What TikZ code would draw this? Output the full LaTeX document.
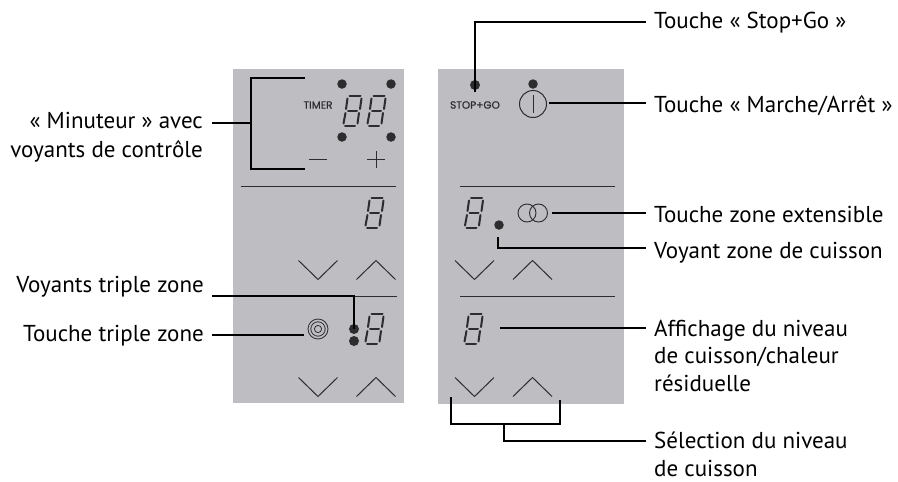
\documentclass[tikz,border=0pt]{standalone}
\usepackage{fontspec}
\setmainfont{PT Sans}
\newfontfamily\panelfont[FakeBold=0.6]{Poppins}
\tikzset{
  x=1pt,y=-1pt,
  conn/.style={draw=black,line width=1.5pt,line cap=butt,line join=miter},
  panel/.style={fill=panelgrey,draw=none},
  rule/.style={draw=ink,line width=0.9pt},
  sym/.style={draw=ink,line width=1pt},
  led/.style={circle,fill=ink,draw=none,inner sep=0pt,minimum size=#1},
  led/.default=9.5pt,
  lab/.style={font=\fontsize{23}{27.7}\selectfont,text=black,inner sep=0pt,align=left,anchor=base west},
  labr/.style={font=\fontsize{23}{28.5}\selectfont,text=black,inner sep=0pt,align=right,anchor=base east},
  seg/.style={draw=ink,line width=2pt,line cap=round},
  digit/.pic={
    \foreach \ax/\ay/\bx/\by in {
      -3.5/-15/7.5/-15, -5/0/4/0, -8/15/2/15,
      -5.5/-12.5/-7/-2, 8.5/-12.5/7/-2,
      -7.5/2/-9.5/12.5, 6/2/4.5/12.5}
      {\draw[seg] (\ax,\ay) -- (\bx,\by);}
  },
  chevdown/.pic={\draw[sym] (-19.5,-9.5) -- (0,9.5) -- (19.5,-9.5);},
  chevup/.pic={\draw[sym] (-19.5,9.5) -- (0,-9.5) -- (19.5,9.5);},
}
\definecolor{panelgrey}{RGB}{190,190,194}
\definecolor{ink}{RGB}{45,45,48}
\begin{document}
\begin{tikzpicture}
\useasboundingbox (0,0) rectangle (898,482);
% panels
\fill[panel] (233,69) rectangle (404,403);
\fill[panel] (438,69) rectangle (624,404);
% rules
\draw[rule] (241,186) -- (396,186);
\draw[rule] (241,296) -- (397,296);
\draw[rule] (460,186) -- (615,186);
\draw[rule] (460,296) -- (615,296);
% left panel symbols
\node[led] (t1) at (342,84) {};
\node[led] (t2) at (391,84) {};
\node[led] (t3) at (342,137) {};
\node[led] (t4) at (391,137) {};
\node[font=\panelfont\fontsize{10.5}{12}\selectfont,text=ink,inner sep=0pt] (timer) at (318,105) {TIMER};
\pic at (353,111) {digit};
\pic at (377,111) {digit};
\draw[sym] (309,159) -- (327,159);
\draw[sym] (367,159) -- (385,159) (376,151) -- (376,168);
\pic at (375,213) {digit};
\pic at (318,270) {chevdown};
\pic at (376,270) {chevup};
\node[circle,draw=ink,line width=0.8pt,minimum size=20pt,inner sep=0pt] (ring) at (318,329) {};
\draw[ink,line width=0.8pt] (318,329) circle (7.2) circle (3.6);
\node[led=10pt] (tz1) at (354,329) {};
\node[led=10pt] (tz2) at (354,341) {};
\pic at (375,329) {digit};
\pic at (318,387) {chevdown};
\pic at (376,387) {chevup};
% right panel symbols
\node[led=10pt] (sg) at (475,85) {};
\node[font=\panelfont\fontsize{10.5}{12}\selectfont,text=ink,inner sep=0pt] (stopgo) at (475,105) {STOP+GO};
\node[led] (on) at (533,84) {};
\node[circle,draw=ink,line width=1pt,minimum size=27pt,inner sep=0pt] (power) at (533,104) {};
\draw[ink,line width=1pt] (533,95) -- (533,113);
\pic at (474.5,213) {digit};
\node[circle,draw=ink,line width=0.9pt,minimum size=18pt,inner sep=0pt] (zoneA) at (527,213) {};
\node[circle,draw=ink,line width=0.9pt,minimum size=18pt,inner sep=0pt] (zoneB) at (538.5,213) {};
\node[led] (cook) at (499,225) {};
\pic at (474.5,270) {chevdown};
\pic at (532.5,270) {chevup};
\pic at (474,329) {digit};
\pic at (474.5,387) {chevdown};
\pic at (532.5,387) {chevup};
% labels
\node[lab] (lstop) at (654,28) {Touche « Stop+Go »};
\node[lab] (lpow) at (654,112) {Touche « Marche/Arrêt »};
\node[lab] (lext) at (654,222) {Touche zone extensible};
\node[lab] (lcook) at (654,258) {Voyant zone de cuisson};
\node[lab] (laff) at (654,391.5) {Affichage du niveau\\de cuisson/chaleur\\résiduelle};
\node[lab] (lsel) at (654,476) {Sélection du niveau\\de cuisson};
\node[labr] (lmin) at (203,157) {« Minuteur » avec\\voyants de contrôle};
\node[labr] (lvt) at (204,292) {Voyants triple zone};
\node[labr] (ltt) at (204,341) {Touche triple zone};
% connector ends
\coordinate (cMinL) at (212,123);
\coordinate (cMinJ) at (251,123);
\coordinate (cMinT) at (305,78);
\coordinate (cMinB) at (305,169);
\coordinate (cVtL) at (212,296);
\coordinate (cVtJ) at (354,296);
\coordinate (cTtL) at (212,335);
\coordinate (cTtR) at (304,335);
\coordinate (cStopB) at (475,92);
\coordinate (cStopR) at (646,22);
\coordinate (cPowR) at (646,103);
\coordinate (cPowL) at (549,103);
\coordinate (cExtR) at (646,213);
\coordinate (cExtL) at (552,213);
\coordinate (cCookT) at (498,237);
\coordinate (cCookR) at (646,248);
\coordinate (cAffL) at (500,328);
\coordinate (cAffR) at (646,328);
\coordinate (cSelL) at (451,397);
\coordinate (cSelR) at (560,400);
\coordinate (cSelM) at (504,424);
\coordinate (cSelO) at (646,441);
% connectors
\draw[conn] (cMinT) -| (251,169) -- (cMinB);
\draw[conn] (cMinL) -- (cMinJ);
\draw[conn] (cVtL) -- (cVtJ) -- (tz1.center);
\draw[conn] (cTtL) -- (cTtR);
\draw[conn] (cStopB) |- (cStopR);
\draw[conn] (cPowL) -- (cPowR);
\draw[conn] (cExtL) -- (cExtR);
\draw[conn] (cCookT) |- (cCookR);
\draw[conn] (cAffL) -- (cAffR);
\draw[conn] (cSelL) |- (cSelM) -| (cSelR);
\draw[conn] (cSelM) |- (cSelO);
\end{tikzpicture}
\end{document}
